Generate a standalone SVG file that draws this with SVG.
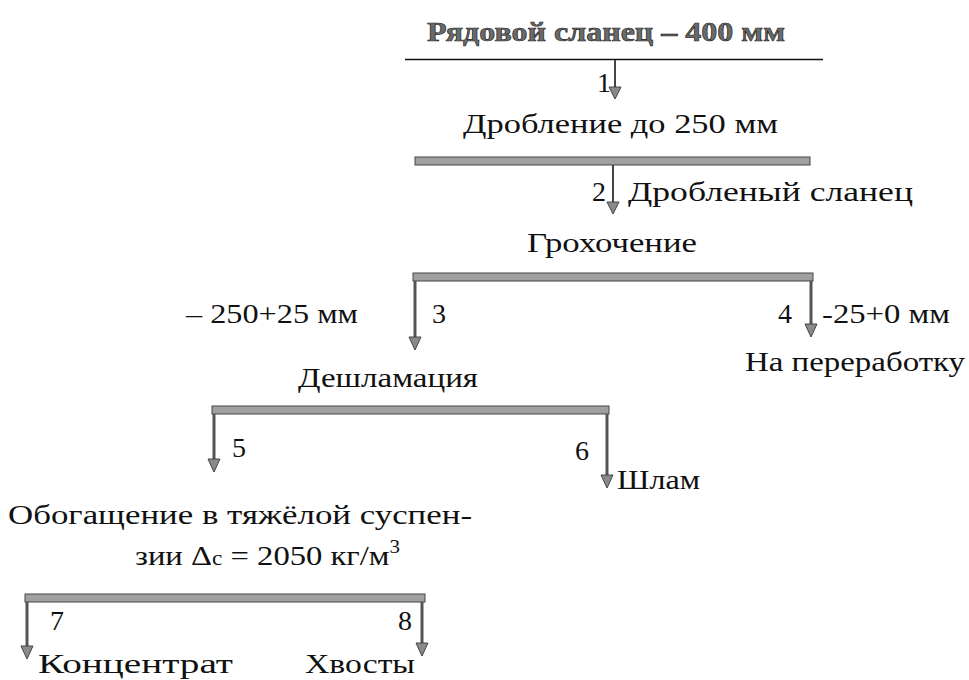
<svg xmlns="http://www.w3.org/2000/svg" width="969" height="680" viewBox="0 0 969 680" font-family="'Liberation Serif', 'DejaVu Serif', serif">
<defs>
<style>
.t{font-size:28px;fill:#111}
.title{font-size:27px;font-weight:bold;fill:#6a6a6a;stroke:#222;stroke-width:0.6}
.bar{fill:#a0a0a0;stroke:#444;stroke-width:1}
.leg{fill:none;stroke:#555;stroke-width:3}
.thin{fill:none;stroke:#444;stroke-width:2}
.head{fill:#8a8a8a;stroke:#444;stroke-width:1}
</style>
</defs>
<rect width="969" height="680" fill="#fff"/>
<g id="connectors">
<line x1="405" y1="59.5" x2="823" y2="59.5" stroke="#111" stroke-width="1.6"/>
<line class="thin" x1="615" y1="60" x2="615" y2="88"/>
<polygon class="head" points="609,87 621,87 615,99"/>
<rect class="bar" x="415" y="157" width="395" height="8"/>
<line class="thin" x1="613" y1="165" x2="613" y2="203"/>
<polygon class="head" points="607,202 619,202 613,214"/>
<rect class="bar" x="413" y="273" width="400" height="8"/>
<line class="leg" x1="415" y1="281" x2="415" y2="338"/>
<polygon class="head" points="409,337 421,337 415,350"/>
<line class="leg" x1="811" y1="281" x2="811" y2="325"/>
<polygon class="head" points="805,324 817,324 811,337"/>
<rect class="bar" x="212" y="406" width="397" height="8"/>
<line class="leg" x1="214" y1="414" x2="214" y2="460"/>
<polygon class="head" points="208,459 220,459 214,472"/>
<line class="leg" x1="607" y1="414" x2="607" y2="476"/>
<polygon class="head" points="601,475 613,475 607,488"/>
<rect class="bar" x="25" y="594" width="400" height="8"/>
<line class="leg" x1="27" y1="602" x2="27" y2="647"/>
<polygon class="head" points="21,646 33,646 27,659"/>
<line class="leg" x1="422" y1="602" x2="422" y2="644"/>
<polygon class="head" points="416,643 428,643 422,656"/>
</g>
<g id="n-title"><text class="title" x="427" y="41" textLength="358" lengthAdjust="spacingAndGlyphs">Рядовой сланец – 400 мм</text></g>
<g id="l1"><text class="t" x="597" y="92">1</text></g>
<g id="n-crush"><text class="t" x="463" y="133" textLength="315" lengthAdjust="spacingAndGlyphs">Дробление до 250 мм</text></g>
<g id="l2"><text class="t" x="592" y="201">2</text><text class="t" x="628" y="201" textLength="285" lengthAdjust="spacingAndGlyphs">Дробленый сланец</text></g>
<g id="n-screen"><text class="t" x="527" y="252" textLength="170" lengthAdjust="spacingAndGlyphs">Грохочение</text></g>
<g id="l3"><text class="t" x="186" y="323" textLength="172" lengthAdjust="spacingAndGlyphs">– 250+25 мм</text><text class="t" x="432" y="323">3</text></g>
<g id="l4"><text class="t" x="778" y="323">4</text><text class="t" x="822" y="323" textLength="128" lengthAdjust="spacingAndGlyphs">-25+0 мм</text></g>
<g id="n-process"><text class="t" x="745" y="371" textLength="220" lengthAdjust="spacingAndGlyphs">На переработку</text></g>
<g id="n-desl"><text class="t" x="298" y="387" textLength="180" lengthAdjust="spacingAndGlyphs">Дешламация</text></g>
<g id="l5"><text class="t" x="232" y="457">5</text></g>
<g id="l6"><text class="t" x="575" y="460">6</text></g>
<g id="n-slime"><text class="t" x="617" y="489" textLength="83" lengthAdjust="spacingAndGlyphs">Шлам</text></g>
<g id="n-hms"><text class="t" x="8" y="524" textLength="464" lengthAdjust="spacingAndGlyphs">Обогащение в тяжёлой суспен-</text><text class="t" x="135" y="565" textLength="265" lengthAdjust="spacingAndGlyphs">зии Δ<tspan font-size="20">c</tspan> = 2050 кг/м<tspan font-size="18" dy="-12">3</tspan></text></g>
<g id="l7"><text class="t" x="50" y="630">7</text></g>
<g id="l8"><text class="t" x="398" y="630">8</text></g>
<g id="n-conc"><text class="t" x="38" y="673" textLength="195" lengthAdjust="spacingAndGlyphs">Концентрат</text></g>
<g id="n-tail"><text class="t" x="305" y="673" textLength="110" lengthAdjust="spacingAndGlyphs">Хвосты</text></g>
</svg>
